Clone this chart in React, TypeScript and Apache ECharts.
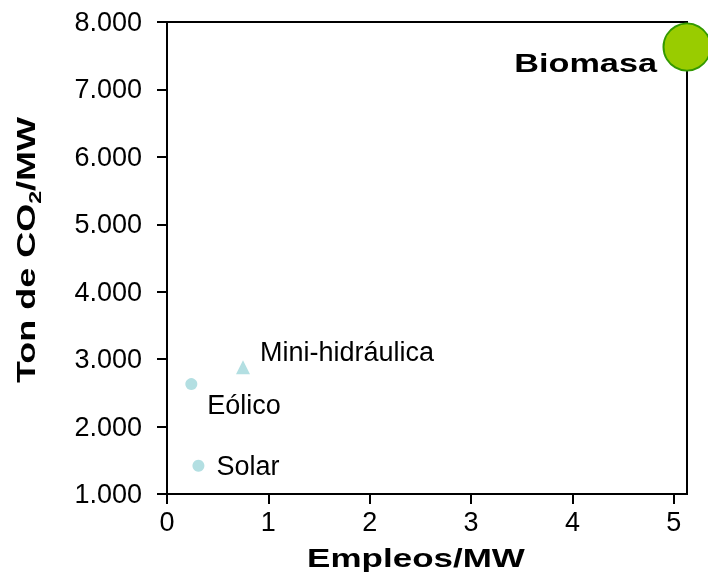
import React, { useEffect, useRef } from "react";
import * as echarts from "echarts";

const xTicks = [0, 1, 2, 3, 4, 5];
const yTickLabels = ["1.000", "2.000", "3.000", "4.000", "5.000", "6.000", "7.000", "8.000"];

const smallNames = ["Eólico", "Solar", "Mini-hidráulica"];
const smallValues: [number, number][] = [
  [0.24, 2630],
  [0.31, 1420],
  [0.75, 2880],
];
const bigName = "Biomasa";
const bigValue: [number, number] = [5.13, 7630];

const xTitle = "Empleos/MW";

const FONT = "'Liberation Sans', Arial, sans-serif";

export default function App() {
  const ref = useRef<HTMLDivElement>(null);
  useEffect(() => {
    if (!ref.current) return;
    const chart = echarts.init(ref.current, null, { renderer: "svg" });
    const labelStyle = { color: "#000", fontFamily: FONT, fontSize: 27 };
    chart.setOption({
      animation: false,
      grid: {
        left: 167,
        right: 21,
        top: 22,
        bottom: 81,
        show: true,
        borderColor: "#000",
        borderWidth: 2,
      },
      xAxis: {
        type: "value",
        min: 0,
        max: 5.13,
        interval: 1,
        axisLine: { show: true, lineStyle: { color: "#000", width: 2 } },
        axisTick: {
          show: true,
          length: 10,
          inside: false,
          lineStyle: { color: "#000", width: 2 },
          customValues: xTicks,
        },
        axisLabel: {
          margin: 14,
          ...labelStyle,
          customValues: xTicks,
        },
        splitLine: { show: false },
      },
      yAxis: {
        type: "value",
        min: 1000,
        max: 8000,
        interval: 1000,
        axisLine: { show: true, lineStyle: { color: "#000", width: 2 } },
        axisTick: { show: true, length: 10, lineStyle: { color: "#000", width: 2 } },
        axisLabel: {
          margin: 25,
          ...labelStyle,
          formatter: (v: number) => yTickLabels[Math.round(v / 1000) - 1] ?? "",
        },
        splitLine: { show: false },
      },
      series: [
        {
          type: "scatter",
          data: [
            {
              name: smallNames[0],
              value: smallValues[0],
              symbol: "circle",
              symbolSize: 12,
              label: { position: "right", offset: [5, 21] },
            },
            {
              name: smallNames[1],
              value: smallValues[1],
              symbol: "circle",
              symbolSize: 12,
              label: { position: "right", offset: [7, 0] },
            },
            {
              name: smallNames[2],
              value: smallValues[2],
              symbol: "triangle",
              symbolSize: 14,
              label: { position: "right", offset: [5, -15] },
            },
          ],
          itemStyle: { color: "#b3dfe2", opacity: 1 },
          label: {
            show: true,
            formatter: "{b}",
            ...labelStyle,
          },
        },
        {
          type: "scatter",
          data: [{ name: bigName, value: bigValue }],
          symbol: "circle",
          symbolSize: 47,
          itemStyle: { color: "#99cc00", borderColor: "#339900", borderWidth: 2, opacity: 1 },
          z: 5,
        },
      ],
    });

    const p = chart.convertToPixel({ seriesIndex: 1 }, bigValue) as number[];
    chart.setOption({
      graphic: [
        {
          type: "text",
          x: 416,
          y: 558,
          scaleX: 1.4,
          style: {
            text: xTitle,
            fontFamily: FONT,
            fontWeight: "bold",
            fontSize: 25,
            fill: "#000",
            align: "center",
            verticalAlign: "middle",
          },
        },
        {
          type: "text",
          x: 27,
          y: 250,
          rotation: Math.PI / 2,
          scaleX: 1.44,
          style: {
            text: "{a|Ton de CO}{s|2}{a|/MW}",
            align: "center",
            verticalAlign: "middle",
            fill: "#000",
            rich: {
              a: { fontFamily: FONT, fontWeight: "bold", fontSize: 25, fill: "#000", lineHeight: 32 },
              s: {
                fontFamily: FONT,
                fontWeight: "bold",
                fontSize: 16,
                fill: "#000",
                verticalAlign: "bottom",
                lineHeight: 32,
                padding: [13, 0, 0, 0],
              },
            },
          },
        },
        {
          type: "text",
          x: p[0] - 30,
          y: p[1] + 16,
          scaleX: 1.37,
          z: 10,
          style: {
            text: bigName,
            fontFamily: FONT,
            fontWeight: "bold",
            fontSize: 25,
            fill: "#000",
            align: "right",
            verticalAlign: "middle",
          },
        },
      ],
    });
    return () => chart.dispose();
  }, []);
  return (
    <div
      ref={ref}
      style={{ position: "fixed", left: 0, top: 0, width: 708, height: 575, overflow: "hidden" }}
    />
  );
}
